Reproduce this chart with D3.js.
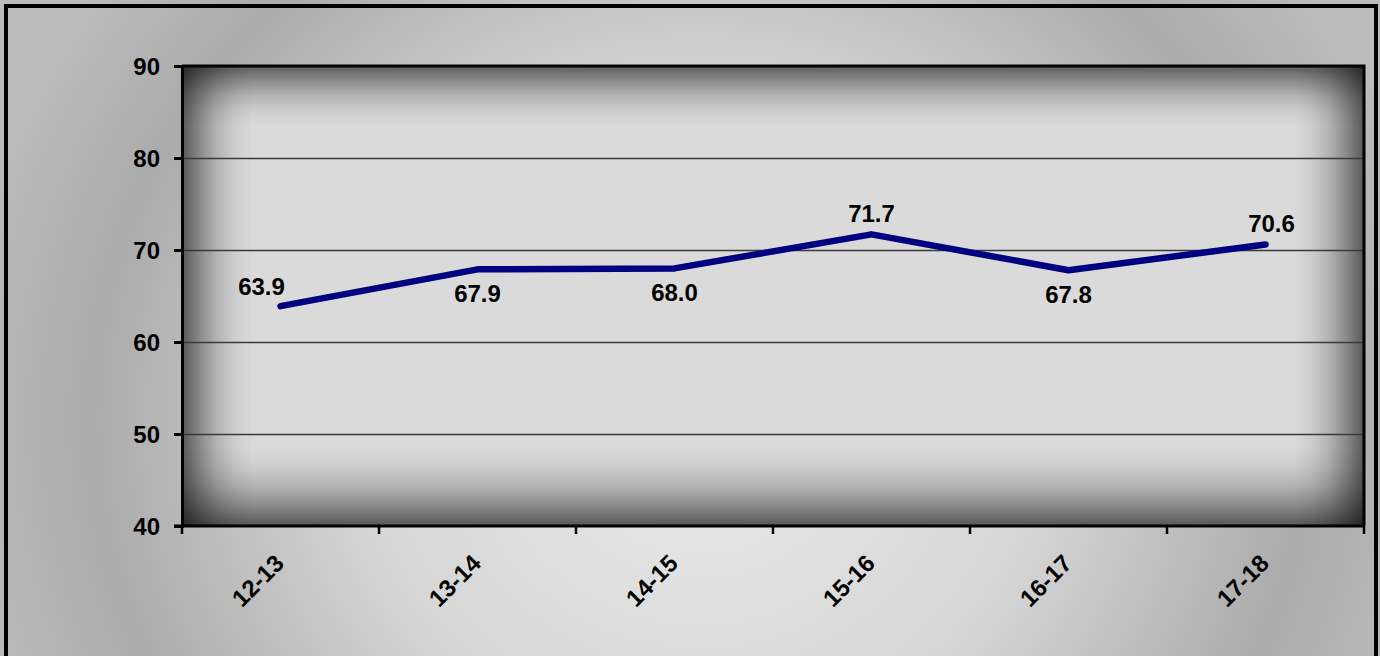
<!DOCTYPE html>
<html>
<head>
<meta charset="utf-8">
<script src="https://cdn.jsdelivr.net/npm/d3@7"></script>
<style>
  html, body { margin: 0; padding: 0; background: #fff; }
  svg { display: block; }
  text { font-family: "Liberation Sans", Arial, sans-serif; font-weight: bold; fill: #000; }
</style>
</head>
<body>
<svg id="chart" width="1380" height="656"></svg>
<script>
// chart data
var categories = ["12-13", "13-14", "14-15", "15-16", "16-17", "17-18"];
var values = [63.9, 67.9, 68.0, 71.7, 67.8, 70.6];
var yTicks = [40, 50, 60, 70, 80, 90];

var W = 1380, H = 656;
var plot = { left: 182, top: 66, right: 1364, bottom: 526 };
var FONT = "24px";

var svg = d3.select("#chart");
var defs = svg.append("defs");

// outer background, light in the middle, greyer toward the sides
var bg = defs.append("radialGradient").attr("id", "bg")
  .attr("gradientUnits", "userSpaceOnUse")
  .attr("cx", 700).attr("cy", 420).attr("r", 760)
  .attr("gradientTransform", "translate(700,420) scale(1,0.95) translate(-700,-420)");
bg.append("stop").attr("offset", "0").attr("stop-color", "#ebebeb");
bg.append("stop").attr("offset", "0.45").attr("stop-color", "#d6d6d6");
bg.append("stop").attr("offset", "0.8").attr("stop-color", "#ababab");
bg.append("stop").attr("offset", "1").attr("stop-color", "#bcbcbc");

svg.append("rect").attr("x", 0).attr("y", 0).attr("width", W).attr("height", H)
  .attr("fill", "url(#bg)");

// edge shading for the plot area
function edgeGrad(id, x1, y1, x2, y2, dark) {
  var g = defs.append("linearGradient").attr("id", id)
    .attr("x1", x1).attr("y1", y1).attr("x2", x2).attr("y2", y2);
  [[0, 1], [0.25, 0.62], [0.5, 0.3], [0.75, 0.1], [1, 0]].forEach(function (s) {
    g.append("stop").attr("offset", s[0]).attr("stop-color", "#000").attr("stop-opacity", dark * s[1]);
  });
}
edgeGrad("gTop", 0, 0, 0, 1, 0.58);
edgeGrad("gBottom", 0, 1, 0, 0, 0.6);
edgeGrad("gLeft", 0, 0, 1, 0, 0.6);
edgeGrad("gRight", 1, 0, 0, 0, 0.6);

var pw = plot.right - plot.left, ph = plot.bottom - plot.top;
var pa = svg.append("g");
pa.append("rect").attr("x", plot.left).attr("y", plot.top).attr("width", pw).attr("height", ph)
  .attr("fill", "#dadada");
pa.append("rect").attr("x", plot.left).attr("y", plot.top).attr("width", pw).attr("height", 60)
  .attr("fill", "url(#gTop)");
pa.append("rect").attr("x", plot.left).attr("y", plot.bottom - 80).attr("width", pw).attr("height", 80)
  .attr("fill", "url(#gBottom)");
pa.append("rect").attr("x", plot.left).attr("y", plot.top).attr("width", 70).attr("height", ph)
  .attr("fill", "url(#gLeft)");
pa.append("rect").attr("x", plot.right - 70).attr("y", plot.top).attr("width", 70).attr("height", ph)
  .attr("fill", "url(#gRight)");

// scales
var x = d3.scaleBand().domain(categories).range([plot.left, plot.right]).padding(0);
var y = d3.scaleLinear().domain([40, 90]).range([plot.bottom, plot.top]);

// gridlines
svg.append("g").selectAll("line").data(yTicks.filter(function (d) { return d > 40 && d < 90; }))
  .join("line")
  .attr("x1", plot.left).attr("x2", plot.right)
  .attr("y1", function (d) { return Math.round(y(d)) + 0.5; })
  .attr("y2", function (d) { return Math.round(y(d)) + 0.5; })
  .attr("stroke", "#3a3a3a").attr("stroke-width", 1.3);

// frame top/right
svg.append("path")
  .attr("d", "M" + plot.left + "," + plot.top + "H" + plot.right + "V" + plot.bottom)
  .attr("fill", "none").attr("stroke", "#000").attr("stroke-width", 3);

// y axis
var yAxis = d3.axisLeft(y).tickValues(yTicks).tickSize(8).tickPadding(14);
var gy = svg.append("g").attr("transform", "translate(" + plot.left + ",0)").call(yAxis);
gy.select(".domain").attr("stroke", "#000").attr("stroke-width", 3);
gy.selectAll(".tick line").attr("stroke", "#000").attr("stroke-width", 3);
gy.selectAll(".tick text").style("font-size", FONT).style("font-family", "Liberation Sans, Arial, sans-serif")
  .style("font-weight", "bold").attr("fill", "#000").attr("dy", "0.36em");

// x axis: ticks between categories
var gx = svg.append("g").attr("transform", "translate(0," + plot.bottom + ")");
gx.append("line").attr("x1", plot.left - 8).attr("x2", plot.right)
  .attr("stroke", "#000").attr("stroke-width", 3);
var bounds = categories.map(function (c) { return x(c); }).concat([plot.right]);
gx.selectAll("line.tk").data(bounds).join("line").attr("class", "tk")
  .attr("x1", function (d) { return d; }).attr("x2", function (d) { return d; })
  .attr("y1", 0).attr("y2", 8)
  .attr("stroke", "#000").attr("stroke-width", 2.5);
gx.selectAll("text").data(categories).join("text")
  .attr("transform", function (d) {
    return "translate(" + (x(d) + x.bandwidth() / 2 - 7) + ",27) rotate(-45)";
  })
  .attr("text-anchor", "end").attr("dy", "0.7em")
  .style("font-size", FONT)
  .text(function (d) { return d; });

// line
var line = d3.line()
  .x(function (d, i) { return x(categories[i]) + x.bandwidth() / 2; })
  .y(function (d) { return y(d); });
svg.append("path").datum(values)
  .attr("d", line)
  .attr("fill", "none").attr("stroke", "#000080").attr("stroke-width", 6.5)
  .attr("stroke-linejoin", "round").attr("stroke-linecap", "round");

// value labels: placement follows the original
var labelSide = ["leftAbove", "below", "below", "above", "below", "above"];
svg.append("g").selectAll("text").data(values).join("text")
  .attr("x", function (d, i) {
    var cx = x(categories[i]) + x.bandwidth() / 2;
    if (labelSide[i] === "leftAbove") return cx - 19;
    if (i === values.length - 1) return cx + 6;
    return cx;
  })
  .attr("y", function (d, i) {
    var s = labelSide[i];
    if (s === "below") return y(d) + 33;
    if (s === "leftAbove") return y(d) - 11;
    return y(d) - 12;
  })
  .attr("text-anchor", "middle")
  .style("font-size", FONT)
  .text(function (d) { return d.toFixed(1); });

// outer border
svg.append("rect").attr("x", 6).attr("y", 6).attr("width", W - 10).attr("height", H + 10)
  .attr("fill", "none").attr("stroke", "#000").attr("stroke-width", 4);
</script>
</body>
</html>
